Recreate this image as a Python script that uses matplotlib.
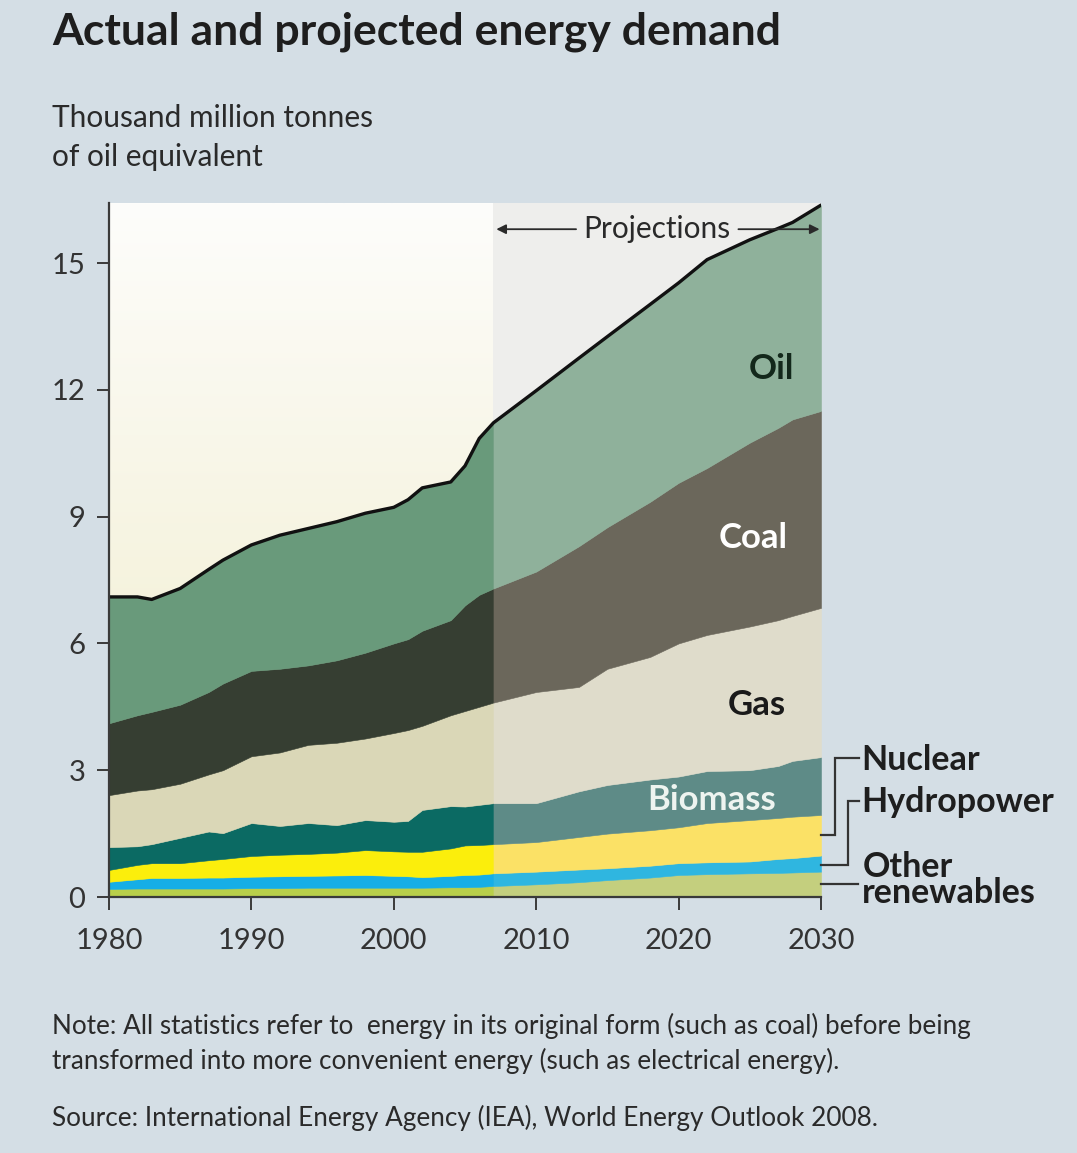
import numpy as np
import matplotlib.pyplot as plt
from matplotlib.colors import LinearSegmentedColormap

# World primary energy demand by fuel, thousand million tonnes of oil equivalent
years = [1980, 1982, 1983, 1985, 1987, 1988, 1990, 1992, 1994, 1996, 1998,
         2000, 2001, 2002, 2004, 2005, 2006, 2007,
         2010, 2013, 2015, 2018, 2020, 2022, 2025, 2027, 2028, 2030]
other_renewables = [0.19, 0.20, 0.20, 0.20, 0.20, 0.20, 0.21, 0.21, 0.22, 0.22, 0.22,
                    0.22, 0.22, 0.22, 0.23, 0.23, 0.24, 0.26,
                    0.30, 0.35, 0.40, 0.46, 0.52, 0.54, 0.56, 0.57, 0.58, 0.60]
hydropower = [0.17, 0.22, 0.25, 0.25, 0.26, 0.26, 0.27, 0.28, 0.28, 0.29, 0.30,
              0.28, 0.27, 0.25, 0.27, 0.29, 0.29, 0.30,
              0.30, 0.30, 0.28, 0.28, 0.28, 0.28, 0.28, 0.33, 0.34, 0.38]
nuclear = [0.28, 0.34, 0.35, 0.35, 0.41, 0.44, 0.49, 0.51, 0.52, 0.54, 0.59,
           0.58, 0.58, 0.60, 0.65, 0.70, 0.70, 0.69,
           0.70, 0.77, 0.82, 0.84, 0.85, 0.93, 0.98, 0.97, 0.98, 0.96]
biomass = [0.54, 0.44, 0.45, 0.60, 0.68, 0.61, 0.78, 0.68, 0.73, 0.65, 0.71,
           0.70, 0.73, 0.99, 1.00, 0.92, 0.95, 0.97,
           0.92, 1.08, 1.15, 1.20, 1.20, 1.23, 1.18, 1.23, 1.32, 1.37]
gas = [1.23, 1.32, 1.30, 1.28, 1.35, 1.49, 1.58, 1.74, 1.85, 1.95, 1.93,
       2.10, 2.15, 1.99, 2.15, 2.26, 2.32, 2.38,
       2.63, 2.47, 2.75, 2.90, 3.15, 3.22, 3.40, 3.45, 3.43, 3.53]
coal = [1.70, 1.78, 1.83, 1.87, 1.95, 2.05, 2.02, 1.98, 1.88, 1.95, 2.03,
        2.12, 2.15, 2.25, 2.25, 2.50, 2.65, 2.70,
        2.85, 3.33, 3.35, 3.67, 3.80, 3.95, 4.35, 4.55, 4.65, 4.66]
oil = [2.99, 2.80, 2.66, 2.75, 2.90, 2.92, 2.98, 3.16, 3.24, 3.28, 3.30,
       3.22, 3.30, 3.38, 3.27, 3.30, 3.70, 3.92,
       4.28, 4.45, 4.51, 4.67, 4.73, 4.93, 4.80, 4.72, 4.66, 4.87]
last_actual = 2007

hist_colours = ['#b9cf4a', '#16aee6', '#fbee0c', '#0b6a63', '#dad7b7', '#363e32', '#699a7b']
proj_colours = ['#c4cf7e', '#2fb6e0', '#fbe166', '#5e8b87', '#dfdccb', '#6b675b', '#8fb19b']

plt.rcParams['font.family'] = ['Lato', 'DejaVu Sans']
ink = '#1e1e1e'

fig = plt.figure(figsize=(10.77, 11.53), dpi=100)
fig.patch.set_facecolor('#d4dee5')
ax = fig.add_axes([109 / 1077, 256 / 1153, 712 / 1077, 694 / 1153])
ax.patch.set_visible(False)

x0, x1, ytop = 1980, 2030, 16.42
ax.set_xlim(x0, x1)
ax.set_ylim(0, ytop)

# background: pale gradient for actuals, flat grey for projections
bg = LinearSegmentedColormap.from_list('bg', ['#f0ebc8', '#fdfdfb'])
ax.imshow(np.linspace(0, 1, 256).reshape(-1, 1), cmap=bg, origin='lower',
          extent=[x0, last_actual, 0, ytop], aspect='auto', zorder=0)
ax.axvspan(last_actual, x1, color='#eeeeec', lw=0, zorder=0)

yrs = np.array(years)
layers = np.array([other_renewables, hydropower, nuclear, biomass, gas, coal, oil])
hist = yrs <= last_actual
proj = yrs >= last_actual
for mask, cols in ((hist, hist_colours), (proj, proj_colours)):
    polys = ax.stackplot(yrs[mask], layers[:, mask], colors=cols, zorder=1)
    for p, c in zip(polys, cols):
        p.set_edgecolor(c)
        p.set_linewidth(0.4)

total = layers.sum(axis=0)
ax.plot(yrs, total, color='#111111', lw=2.4, solid_joinstyle='round',
        solid_capstyle='round', zorder=3)

# axes styling
for side in ('top', 'right'):
    ax.spines[side].set_visible(False)
for side in ('left', 'bottom'):
    ax.spines[side].set_color('#3a3a3a')
    ax.spines[side].set_linewidth(1.6)
    ax.spines[side].set_zorder(4)
ax.set_yticks([0, 3, 6, 9, 12, 15])
ax.set_xticks([1980, 1990, 2000, 2010, 2020, 2030])
ax.tick_params(axis='y', direction='out', length=9, width=1.4, color='#3a3a3a',
               labelsize=21, labelcolor='#333333', pad=8)
ax.tick_params(axis='x', direction='out', length=9, width=1.4, color='#3a3a3a',
               labelsize=21, labelcolor='#333333', pad=13)

# fuel labels inside the areas
lab = dict(fontsize=25, fontweight='bold', ha='center', va='center', zorder=5)
ax.text(2026.55, 12.5, 'Oil', color='#13281b', **lab)
ax.text(2025.2, 8.5, 'Coal', color='white', **lab)
ax.text(2025.5, 4.55, 'Gas', color='#1a1a1a', **lab)
ax.text(2022.35, 2.3, 'Biomass', color='#eef4f0', **lab)

# projections marker
ax.text(2018.5, 15.8, 'Projections', color='#2a2a2a', fontsize=21.5,
        ha='center', va='center', zorder=5)
arrow = dict(arrowstyle='-|>', color='#2a2a2a', lw=1.3, mutation_scale=14,
             shrinkA=0, shrinkB=0)
ax.annotate('', xy=(2007.2, 15.8), xytext=(2012.8, 15.8), arrowprops=arrow, zorder=5)
ax.annotate('', xy=(2029.9, 15.8), xytext=(2024.2, 15.8), arrowprops=arrow, zorder=5)

# leader lines for the thin layers
lead = dict(color='#333333', lw=1.6, clip_on=False, zorder=5, solid_joinstyle='miter')
ax.plot([2030, 2031.0, 2031.0, 2032.7], [1.47, 1.47, 3.28, 3.28], **lead)
ax.plot([2030, 2031.9, 2031.9, 2032.7], [0.76, 0.76, 2.27, 2.27], **lead)
ax.plot([2030, 2032.6], [0.31, 0.31], **lead)
side_kw = dict(color=ink, fontsize=24.5, fontweight='bold', va='center', ha='left',
               clip_on=False)
ax.text(2032.8, 3.25, 'Nuclear', **side_kw)
ax.text(2032.8, 2.25, 'Hydropower', **side_kw)
ax.text(2032.9, 0.40, 'Other\nrenewables', linespacing=0.8, **side_kw)

# titles and notes
fig.text(52 / 1077, 1 - 45 / 1153, 'Actual and projected energy demand',
         fontsize=32, fontweight='bold', color=ink, va='baseline')
fig.text(52 / 1077, 1 - 127 / 1153, 'Thousand million tonnes', fontsize=21.5,
         color='#2a2a2a', va='baseline')
fig.text(52 / 1077, 1 - 166 / 1153, 'of oil equivalent', fontsize=21.5,
         color='#2a2a2a', va='baseline')
fig.text(52 / 1077, 1 - 1034 / 1153,
         'Note: All statistics refer to  energy in its original form (such as coal) before being',
         fontsize=18.8, color='#2a2a2a', va='baseline')
fig.text(52 / 1077, 1 - 1069 / 1153,
         'transformed into more convenient energy (such as electrical energy).',
         fontsize=18.8, color='#2a2a2a', va='baseline')
fig.text(52 / 1077, 1 - 1126 / 1153,
         'Source: International Energy Agency (IEA), World Energy Outlook 2008.',
         fontsize=18.8, color='#2a2a2a', va='baseline')

fig.savefig('out.png', dpi=100, facecolor=fig.get_facecolor())
